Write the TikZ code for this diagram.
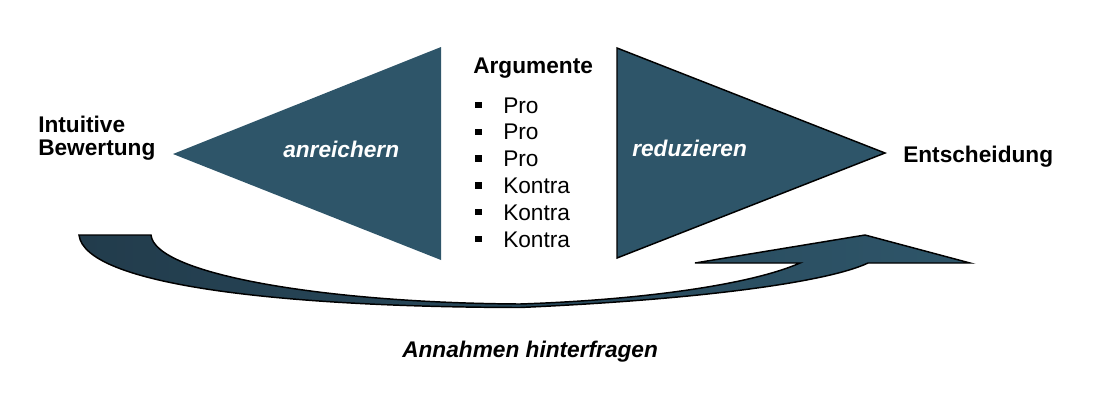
\documentclass[tikz,border=0pt]{standalone}
\usepackage{fontspec}
\setmainfont{Liberation Sans}
\definecolor{teal}{RGB}{46,85,105}
\definecolor{tealdark}{RGB}{34,60,76}
\tikzset{
  lbl/.style={inner sep=0pt, anchor=base west, font=\fontsize{17}{20}\selectfont},
  blbl/.style={lbl, font=\fontsize{17}{20}\selectfont\bfseries},
  ilbl/.style={lbl, font=\fontsize{17}{20}\selectfont\bfseries\itshape},
  wlbl/.style={ilbl, text=white},
  bulletbox/.style={fill=black, inner sep=0pt, minimum size=6.5*0.75pt, draw=none},
  tri/.style={fill=teal},
  outl/.style={draw=black, line width=1.1pt, line join=miter}
}
\begin{document}
\begin{tikzpicture}[x=0.75pt,y=-0.75pt]
\useasboundingbox (0,0) rectangle (1093,405);
% left triangle (no outline)
\fill[tri] (173,154) -- (441,47) -- (441,260) -- cycle;
% right triangle (outlined)
\path[tri,outl] (617,48) -- (885,153) -- (617,258) -- cycle;
% curved arrow band
\path[outl, left color=tealdark, right color=teal]
  (79,235) -- (151,235)
  .. controls (155,275) and (330,303) .. (520,304)
  .. controls (640,300) and (750,285) .. (800,263)
  -- (695,263) -- (865,235) -- (970,263) -- (868,263)
  .. controls (830,281) and (710,299) .. (520,307.5)
  .. controls (280,307) and (85,285) .. (79,235) -- cycle;
% labels
\node[blbl] (int1) at (38,132) {Intuitive};
\node[blbl] (int2) at (38,155) {Bewertung};
\node[blbl] (ent) at (903,162) {Entscheidung};
\node[wlbl] (anr) at (283,157) {anreichern};
\node[wlbl] (red) at (632,156) {reduzieren};
\node[ilbl] (ann) at (402,357) {Annahmen hinterfragen};
\node[blbl] (arg) at (473,73) {Argumente};
\foreach \t [count=\i] in {Pro,Pro,Pro,Kontra,Kontra,Kontra}{
  \node[lbl] (item\i) at (503,{113+26.8*(\i-1)}) {\t};
  \node[bulletbox] (bul\i) at (478.5,{105+26.8*(\i-1)}) {};
}
\end{tikzpicture}
\end{document}
